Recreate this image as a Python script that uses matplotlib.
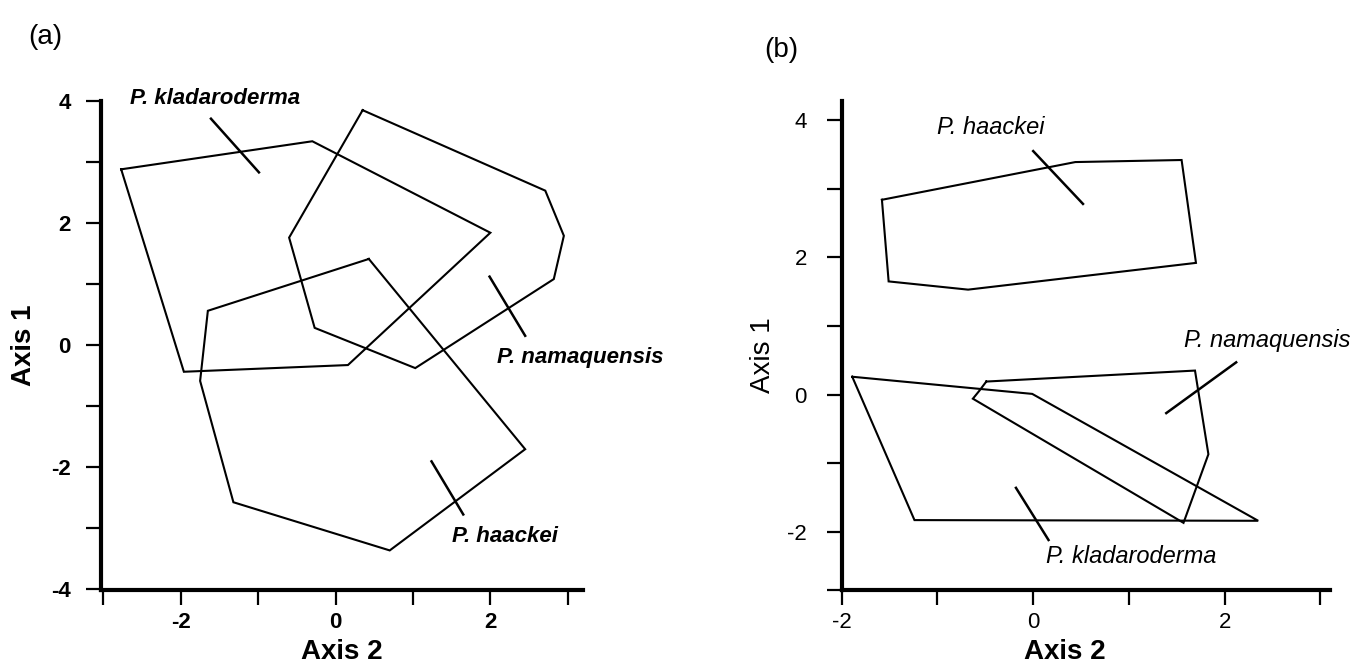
import numpy as np
import matplotlib
matplotlib.use("Agg")
import matplotlib.pyplot as plt

plt.rcParams['font.family'] = ['Liberation Sans', 'DejaVu Sans']
plt.rcParams['axes.unicode_minus'] = False

# ---------------- Panel (a) data ----------------
a_klad_x = [-2.77, -0.30, 2.00, 0.16, -1.96]
a_klad_y = [2.88, 3.34, 1.84, -0.33, -0.44]
a_nama_x = [0.35, 2.71, 2.95, 2.82, 1.03, -0.27, -0.60]
a_nama_y = [3.85, 2.53, 1.79, 1.08, -0.38, 0.28, 1.76]
a_haac_x = [0.43, 2.45, 0.70, -1.32, -1.75, -1.65]
a_haac_y = [1.41, -1.71, -3.37, -2.58, -0.59, 0.56]
a_labels = ["P. kladaroderma", "P. namaquensis", "P. haackei"]
a_label_xy = [(-2.66, 4.04), (2.09, -0.20), (1.50, -3.14)]
a_pointer_x = [(-1.61, -0.99), (1.99, 2.45), (1.24, 1.65)]
a_pointer_y = [(3.71, 2.83), (1.12, 0.15), (-1.91, -2.78)]
a_xticks = [-2, 0, 2]
a_xminor = [-3, -1, 1, 3]
a_yticks = [-4, -2, 0, 2, 4]
a_yminor = [-3, -1, 1, 3]

# ---------------- Panel (b) data ----------------
b_haac_x = [-1.58, 0.44, 1.55, 1.70, -0.68, -1.51]
b_haac_y = [2.84, 3.39, 3.42, 1.92, 1.53, 1.65]
b_nama_x = [-0.49, 1.69, 1.83, 1.57, -0.63, -0.56]
b_nama_y = [0.19, 0.35, -0.87, -1.87, -0.06, 0.06]
b_klad_x = [-1.89, -0.01, 2.35, -1.24]
b_klad_y = [0.26, 0.01, -1.84, -1.83]
b_labels = ["P. haackei", "P. namaquensis", "P. kladaroderma"]
b_label_xy = [(-1.00, 3.89), (1.58, 0.79), (0.13, -2.36)]
b_pointer_x = [(0.00, 0.52), (2.12, 1.39), (-0.18, 0.16)]
b_pointer_y = [(3.55, 2.78), (0.47, -0.27), (-1.36, -2.12)]
b_xticks = [-2, 0, 2]
b_xminor = [-1, 1, 3]
b_yticks = [-2, 0, 2, 4]
b_yminor = [-2.85, -1, 1, 3]

fig = plt.figure(figsize=(13.62, 6.69), dpi=100)
axA = fig.add_axes([0.0742, 0.118, 0.354, 0.731])
axB = fig.add_axes([0.618, 0.118, 0.3585, 0.731])


def closed(x, y):
    return np.append(x, x[0]), np.append(y, y[0])


def style_axes(ax, weight, ypad):
    for s in ['top', 'right']:
        ax.spines[s].set_visible(False)
    for s in ['left', 'bottom']:
        ax.spines[s].set_linewidth(3.0)
        ax.spines[s].set_capstyle('projecting')
    ax.tick_params(which='both', direction='out', length=11, width=1.6, color='black',
                   labelsize=16)
    ax.tick_params(axis='y', which='major', pad=ypad)
    ax.tick_params(axis='x', which='major', pad=5)
    for lab in ax.get_xticklabels() + ax.get_yticklabels():
        lab.set_fontweight(weight)


# ---- Panel (a)
for xs, ys in [(a_klad_x, a_klad_y), (a_nama_x, a_nama_y), (a_haac_x, a_haac_y)]:
    cx, cy = closed(xs, ys)
    axA.plot(cx, cy, color='black', lw=1.5, solid_joinstyle='miter')
for px, py in zip(a_pointer_x, a_pointer_y):
    axA.plot(px, py, color='black', lw=1.8)
for lab, (tx, ty) in zip(a_labels, a_label_xy):
    axA.text(tx, ty, lab, fontsize=16, fontstyle='italic', fontweight='bold',
             ha='left', va='center')
axA.set_xlim(-3.03, 3.2)
axA.set_ylim(-4.02, 4.0)
axA.set_xticks(a_xticks)
axA.set_xticks(a_xminor, minor=True)
axA.set_yticks(a_yticks)
axA.set_yticks(a_yminor, minor=True)
style_axes(axA, 'bold', 11)
axA.set_xlabel("Axis 2", fontsize=20, fontweight='bold', labelpad=4)
axA.set_ylabel("Axis 1", fontsize=20, fontweight='bold', labelpad=10)
fig.text(0.021, 0.945, "(a)", fontsize=20, ha='left', va='center')

# ---- Panel (b)
for xs, ys in [(b_haac_x, b_haac_y), (b_nama_x, b_nama_y), (b_klad_x, b_klad_y)]:
    cx, cy = closed(xs, ys)
    axB.plot(cx, cy, color='black', lw=1.5, solid_joinstyle='miter')
for px, py in zip(b_pointer_x, b_pointer_y):
    axB.plot(px, py, color='black', lw=1.8)
for lab, (tx, ty) in zip(b_labels, b_label_xy):
    axB.text(tx, ty, lab, fontsize=17, fontstyle='italic',
             ha='left', va='center')
axB.set_xlim(-2.0, 3.1)
axB.set_ylim(-2.85, 4.28)
axB.set_xticks(b_xticks)
axB.set_xticks(b_xminor, minor=True)
axB.set_yticks(b_yticks)
axB.set_yticks(b_yminor, minor=True)
style_axes(axB, 'normal', 14)
axB.set_xlabel("Axis 2", fontsize=20, fontweight='bold', labelpad=4)
axB.xaxis.label.set_x(0.457)
axB.set_ylabel("Axis 1", fontsize=20, labelpad=8)
axB.yaxis.label.set_y(0.48)
fig.text(0.561, 0.925, "(b)", fontsize=20, ha='left', va='center')

fig.savefig("out.png", dpi=100, facecolor='white')
